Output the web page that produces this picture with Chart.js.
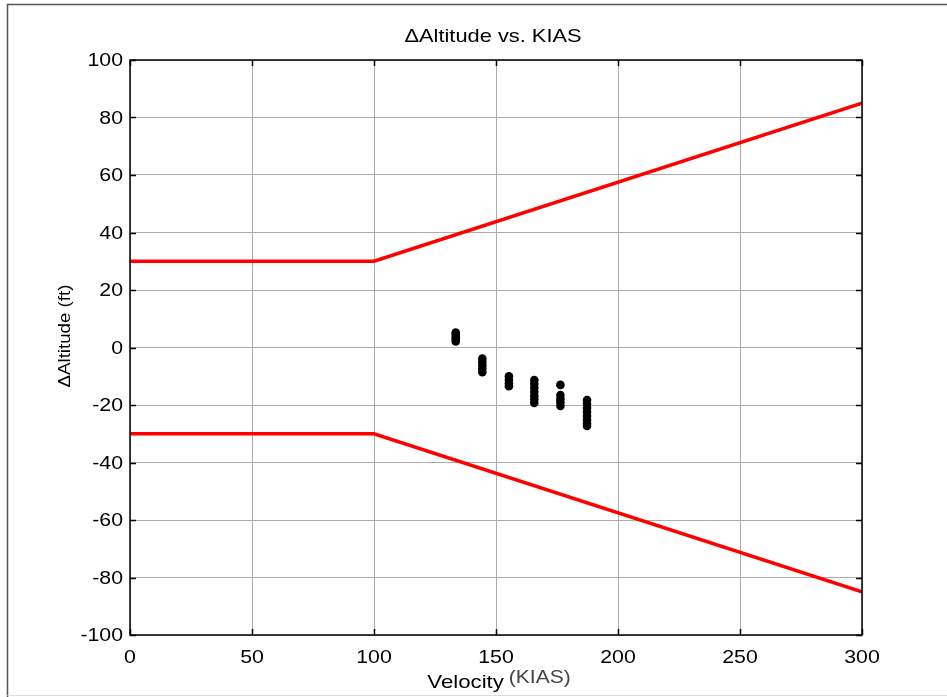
<!DOCTYPE html>
<html>
<head>
<meta charset="utf-8">
<script src="https://cdn.jsdelivr.net/npm/chart.js"></script>
<style>
  html, body { margin: 0; padding: 0; background: #fff; }
  #wrap { width: 947px; height: 697px; position: relative; }
</style>
</head>
<body>
<div id="wrap"><canvas id="c" width="947" height="697"></canvas></div>
<script>
// limit envelope (ft) vs. indicated airspeed
const velocity = [0, 100, 300];
const upperLimit = [30, 30, 85];
const lowerLimit = [-30, -30, -85];

// measured altitude deviation, grouped by test airspeed
const kias = [133.5, 144.4, 155.3, 165.7, 176.4, 187.3];
const dAlt134 = [5.2, 4.4, 3.6, 2.8, 2.1];
const dAlt144 = [-3.8, -5.0, -6.2, -7.4, -8.6];
const dAlt155 = [-10.0, -11.2, -12.4, -13.5];
const dAlt166 = [-11.3, -12.6, -14.0, -15.4, -16.8, -18.0, -19.3];
const dAlt176 = [-13.0, -16.5, -17.8, -19.0, -20.3];
const dAlt187 = [-18.3, -19.6, -21.0, -22.4, -23.8, -25.2, -26.4, -27.3];

const xTicks = [0, 50, 100, 150, 200, 250, 300];
const yTicks = [-100, -80, -60, -40, -20, 0, 20, 40, 60, 80, 100];

const FONT = '"Liberation Sans", Arial, sans-serif';
const STRETCH = 1.15; // the source text is a bit wider than Arial

const groups = [dAlt134, dAlt144, dAlt155, dAlt166, dAlt176, dAlt187];
const measured = [];
groups.forEach((g, i) => g.forEach(v => measured.push({ x: kias[i], y: v })));

const toPts = (xs, ys) => xs.map((x, i) => ({ x, y: ys[i] }));

function wideText(ctx, text, x, y, align, sx) {
  ctx.save();
  ctx.translate(x, y);
  ctx.scale(sx, 1);
  ctx.textAlign = align;
  ctx.fillText(text, 0, 0);
  ctx.restore();
}

// frame, inside ticks, tick labels, title and axis labels (MATLAB look)
const matlabDecor = {
  id: 'matlabDecor',
  beforeDraw(chart) {
    const ctx = chart.ctx;
    ctx.save();
    ctx.fillStyle = '#fff';
    ctx.fillRect(0, 0, chart.width, chart.height);
    ctx.strokeStyle = '#555';
    ctx.lineWidth = 1.5;
    ctx.beginPath();
    ctx.moveTo(7.5, chart.height);
    ctx.lineTo(7.5, 4.5);
    ctx.lineTo(chart.width, 4.5);
    ctx.stroke();
    ctx.strokeStyle = '#ddd';
    ctx.lineWidth = 1;
    ctx.beginPath();
    ctx.moveTo(7.5, 695.5);
    ctx.lineTo(chart.width, 695.5);
    ctx.stroke();
    ctx.restore();
  },
  afterDraw(chart) {
    const ctx = chart.ctx;
    const a = chart.chartArea;
    const xs = chart.scales.x, ys = chart.scales.y;
    ctx.save();
    ctx.strokeStyle = '#000';
    ctx.lineWidth = 1.5;
    ctx.strokeRect(a.left, a.top, a.right - a.left, a.bottom - a.top);
    ctx.beginPath();
    xTicks.forEach(v => {
      const px = Math.round(xs.getPixelForValue(v)) + 0.5;
      ctx.moveTo(px, a.bottom); ctx.lineTo(px, a.bottom - 6);
      ctx.moveTo(px, a.top); ctx.lineTo(px, a.top + 6);
    });
    yTicks.forEach(v => {
      const py = Math.round(ys.getPixelForValue(v)) + 0.5;
      ctx.moveTo(a.left, py); ctx.lineTo(a.left + 6, py);
      ctx.moveTo(a.right, py); ctx.lineTo(a.right - 6, py);
    });
    ctx.stroke();

    ctx.fillStyle = '#000';
    ctx.font = '18.5px ' + FONT;

    // tick labels
    ctx.textBaseline = 'middle';
    yTicks.forEach(v => {
      wideText(ctx, String(v), a.left - 7, ys.getPixelForValue(v) + 1, 'right', STRETCH);
    });
    ctx.textBaseline = 'alphabetic';
    xTicks.forEach(v => {
      wideText(ctx, String(v), xs.getPixelForValue(v), a.bottom + 28, 'center', STRETCH);
    });

    // title
    wideText(ctx, '\u0394Altitude vs. KIAS', (a.left + a.right) / 2 - 3, 42, 'center', 1.18);

    // x label with raised unit
    ctx.font = '18.5px ' + FONT;
    const w1 = ctx.measureText('Velocity').width * 1.2;
    ctx.font = '17.5px ' + FONT;
    const w2 = ctx.measureText('(KIAS)').width * 1.2;
    const gap = 5;
    const x0 = (a.left + a.right) / 2 + 3 - (w1 + gap + w2) / 2;
    ctx.font = '18.5px ' + FONT;
    wideText(ctx, 'Velocity', x0, 688, 'left', 1.2);
    ctx.fillStyle = '#444';
    ctx.font = '17.5px ' + FONT;
    wideText(ctx, '(KIAS)', x0 + w1 + gap, 683, 'left', 1.2);

    // y label
    ctx.fillStyle = '#000';
    ctx.font = '17px ' + FONT;
    ctx.translate(70, 336);
    ctx.rotate(-Math.PI / 2);
    wideText(ctx, '\u0394Altitude (ft)', 0, 0, 'center', 1.1);
    ctx.restore();
  }
};

new Chart(document.getElementById('c'), {
  type: 'scatter',
  data: {
    datasets: [
      {
        label: 'upper',
        data: toPts(velocity, upperLimit),
        showLine: true,
        borderColor: '#ff0000',
        borderWidth: 3.5,
        pointRadius: 0,
        fill: false
      },
      {
        label: 'lower',
        data: toPts(velocity, lowerLimit),
        showLine: true,
        borderColor: '#ff0000',
        borderWidth: 3.5,
        pointRadius: 0,
        fill: false
      },
      {
        label: 'measured',
        data: measured,
        showLine: false,
        pointRadius: 4.3,
        pointBackgroundColor: '#000',
        pointBorderColor: '#000',
        pointBorderWidth: 0
      }
    ]
  },
  options: {
    responsive: false,
    animation: false,
    devicePixelRatio: 1,
    layout: { padding: { top: 60, right: 85, bottom: 0, left: 0 } },
    plugins: {
      legend: { display: false },
      title: { display: false },
      tooltip: { enabled: false }
    },
    scales: {
      x: {
        type: 'linear',
        min: 0,
        max: 300,
        afterFit: s => { s.height = 62; },
        afterBuildTicks: s => { s.ticks = xTicks.map(v => ({ value: v })); },
        ticks: { display: false },
        grid: { color: '#ababab', lineWidth: 1, drawTicks: false },
        border: { display: false }
      },
      y: {
        type: 'linear',
        min: -100,
        max: 100,
        afterFit: s => { s.width = 130; },
        afterBuildTicks: s => { s.ticks = yTicks.map(v => ({ value: v })); },
        ticks: { display: false },
        grid: { color: '#ababab', lineWidth: 1, drawTicks: false },
        border: { display: false }
      }
    }
  },
  plugins: [matlabDecor]
});
</script>
</body>
</html>
